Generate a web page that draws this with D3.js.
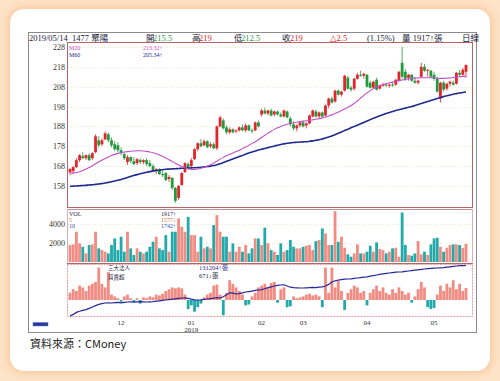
<!DOCTYPE html>
<html><head><meta charset="utf-8">
<script src="https://cdn.jsdelivr.net/npm/d3@7"></script>
<style>body{margin:0;background:#fde3c7;} svg{display:block}</style>
</head><body><svg id="c" width="500" height="381"></svg>
<script>
// ---- DATA ----
const openP = [165,165.5,167.5,171,173,172,173.5,172,175,181,
179,181.5,184,181,179,178.5,176,174,170,172.5,
170.5,169.5,171,170,171,169.5,168,165.5,166,164,
164.5,161.5,162,157,152,158.5,165,169,168,171.5,
176.5,179.5,178.5,180.5,178,179,177,188,191,187.5,
185,186.5,185.5,186,187.5,186,188.5,186,186,190,
194,196,194.5,196,194,195.5,194,193,195.5,192,
189,187,188.5,190,188.5,189.5,193,195.5,193,195,
193.5,198.5,202,200.5,206,204,206,212.5,207.5,207,
212,214,213.5,214,210,207.5,211.5,207,208.5,209,
208.5,209,209,211,220,215.5,212.5,214,211,210,
213,218,216,216,214,212,202,210,207,209.5,
210,209.5,215,214,215.5];
const highP = [167,168,172,174,175,174,174.5,175,184,183,
182,185.5,185,182.5,180.5,180,177.5,175,173.5,173,
172.5,172,172,171.5,172,171,169,167,167,165.5,
165,163.5,162.5,157.5,158.5,165,170,170,172,177,
180,181.5,181.5,181,180,180,188.5,193.5,192,188.5,
187.5,187,186.5,188,189,189.5,189,187,190.5,191,
197,197.5,196.5,197,196,196,195,196.5,196,193,
190.5,189,190.5,191,190,194,196.5,196.5,195.5,195.5,
199,202.5,203,206.5,206.5,206,214,213.5,208.5,212.5,
215,216,215,214.5,211,211,212.5,209,210,210,
209.5,210,212,216,228,217,214.5,214.5,213,211.5,
220,219.5,217,216.5,215.5,213,210.5,211,210,211,
211,215.5,216.5,217.5,219];
const lowP = [163.5,164,167,170,171.5,171,170.5,171,174.5,177.5,
178,181,180,177.5,175.5,175,173.5,171,168.5,169.5,
168.5,168.5,169,169,168,167.5,165,164,163.5,162.5,
160.5,160,156,149.5,151,158,164.5,166.5,167,171,
175.5,177.5,178,177,177,176.5,176,187.5,186.5,184,
184,184.5,184.5,185.5,185.5,185,185.5,184.5,185.5,187.5,
193,194,193.5,193,193,193.5,192.5,192.5,192,188,
186,185.5,187.5,187.5,187,189,192.5,192.5,192,192.5,
193,197,199.5,200,203.5,203,205.5,206.5,205.5,206,
211.5,213,212,207.5,207,207,206,206.5,208,208,
207.5,208,208.5,210.5,212,211,211,210.5,209.5,209,
212.5,215.5,213,212.5,211,205,200,205.5,206,208,
208.5,209,213,213.5,212.5];
const closeP = [166.5,167.5,171,173.5,172,173.5,171,174.5,183,178.5,
181,184.5,181,178.5,176.5,176,174.5,172,172.5,170.5,
169,171.5,170,171,169,168,165.5,166.5,164,163.5,
161,162.5,157,150.5,158,164.5,169.5,167,171,176.5,
179.5,178,180.5,177.5,179,177,188,192.5,187,185,
186.5,185,186,187.5,186,188.5,186,185.5,190,188,
196,194.5,196,193.5,195.5,194,193,196,192.5,189,
187,188.5,190,188,189.5,193.5,196,193,195,193,
198.5,202,200,206,204,205.5,213.5,207,206.5,212,
214,213.5,214.5,208,207.5,210.5,206.5,208.5,209,208.5,
209,208.5,211.5,215.5,213,212,214,211,210,211,
218,216,216.5,213,212,205.5,210,206.5,209.5,210.5,
209,215,214,216.5,219];
const ma20 = [164.5,164.6,164.8,165.2,165.8,166.5,167.3,168.2,169.2,170.1,
171.0,171.8,172.6,173.3,173.9,174.4,174.8,175.1,175.3,175.5,
175.6,175.7,175.7,175.6,175.4,175.1,174.7,174.2,173.6,172.9,
172.1,171.2,170.3,169.4,168.6,167.8,167.1,166.6,166.3,166.3,
166.5,166.9,167.4,168.0,168.7,169.5,170.5,171.5,172.4,173.2,
173.9,174.6,175.3,176.0,176.8,177.6,178.5,179.4,180.3,181.3,
182.4,183.5,184.6,185.6,186.5,187.3,188.0,188.6,189.1,189.5,
189.8,190.1,190.4,190.6,190.8,191.0,191.3,191.6,191.9,192.3,
192.7,193.2,193.8,194.5,195.2,196.0,196.8,197.6,198.5,199.5,
200.8,202.2,203.6,204.9,206.0,207.0,207.8,208.5,209.0,209.5,
209.9,210.3,210.7,211.1,211.4,211.7,211.9,212.1,212.3,212.4,
212.5,212.5,212.5,212.5,212.4,212.3,212.2,212.2,212.3,212.4,
212.6,212.8,213.0,213.2,213.32];
const ma60 = [157.8,157.9,158.0,158.1,158.2,158.3,158.5,158.6,158.8,159.0,
159.2,159.5,159.8,160.1,160.5,160.9,161.3,161.8,162.3,162.8,
163.3,163.7,164.1,164.5,164.9,165.2,165.5,165.8,166.0,166.2,
166.4,166.5,166.6,166.7,166.8,166.9,167.0,167.0,167.1,167.2,
167.3,167.4,167.6,167.8,168.0,168.3,168.7,169.2,169.8,170.4,
171.0,171.6,172.2,172.8,173.4,174.0,174.6,175.1,175.6,176.1,
176.5,176.9,177.3,177.7,178.1,178.5,178.9,179.2,179.5,179.7,
179.9,180.0,180.1,180.2,180.3,180.5,180.7,181.0,181.3,181.7,
182.1,182.6,183.2,183.8,184.5,185.2,185.9,186.6,187.3,188.0,
188.6,189.3,190.0,190.7,191.4,192.1,192.7,193.3,193.9,194.5,
195.0,195.5,196.0,196.4,196.8,197.2,197.6,198.0,198.5,199.0,
199.5,200.0,200.5,201.0,201.5,202.0,202.5,203.0,203.4,203.8,
204.2,204.5,204.8,205.1,205.34];
const volume = [1790,1860,3200,1970,1610,910,1790,1860,3200,1440,
1260,1090,910,1790,2490,1260,2670,1090,3200,1440,
740,1440,1090,910,1090,1610,2140,2670,1440,1260,
2840,1090,3200,3200,4600,3720,3200,4770,2840,2840,
1090,2670,1440,1610,1440,3900,4950,3200,2670,2670,
1090,1970,1090,1610,1090,1790,910,1440,2490,2490,
1790,3620,1970,1260,1090,740,1970,1090,1260,2320,
1610,1440,1440,1610,1720,1790,1260,2210,2320,3550,
3020,1790,1790,5370,2140,2670,1510,810,560,910,
1860,910,910,1090,1720,1090,2070,1370,1260,910,
1090,1440,1510,560,5230,1790,740,670,910,2210,
810,1090,740,1860,2490,2560,1610,1090,1510,1790,
1860,1860,1790,1500,1917];
const netBuy = [400,600,500,800,700,500,800,900,1000,1800,
900,700,1550,300,200,100,-100,200,300,100,
-150,100,-200,150,100,200,150,300,250,350,
500,600,700,650,700,650,300,-500,-300,-650,
-400,-200,150,300,400,800,850,300,-850,400,
1100,900,700,500,300,-300,-250,200,400,700,
800,900,700,950,1000,-150,600,700,-400,-350,
200,100,150,200,300,350,250,300,200,-400,
1800,400,1800,700,1100,500,-550,400,600,800,
700,400,500,-300,400,600,800,500,700,400,
300,600,400,700,500,300,400,-150,200,600,
1000,700,-400,-500,-450,300,800,500,900,700,
1100,600,900,500,671];
const cumNet = [5000,9000,14000,17000,19000,21000,24000,27500,31000,34000,
36000,37500,38000,37500,38500,39000,38000,39000,40000,40500,
40000,40500,41000,40500,40000,40500,41000,42000,43000,44000,
45000,46000,47000,48000,49000,50000,50500,49000,47000,45500,
45000,45500,46500,47500,48500,49500,51000,50000,53000,58000,
63000,62000,60000,61000,63000,65000,66000,67000,69000,70000,
71000,73000,76000,78000,80000,81500,82500,83000,80000,77000,
76000,75500,75000,75000,75500,76000,76500,76000,77000,78000,
80000,84000,90000,93000,95000,96000,97000,97500,98000,99000,
100000,101000,102000,103000,104500,106000,107500,109000,110500,111500,
112500,113500,114500,115000,115500,116500,117500,118500,119500,120500,
121500,122500,123500,124000,124500,125000,125500,126000,127000,128000,
129000,130000,131000,130800,131204];
const priceTicks = [228,218,208,198,188,178,168,158];
const volTicks = [4000,2000];
const monthIdx = [16,38,60,73,93,114];
const monthLabels = ["12","01","02","03","04","05"];

// ---- LAYOUT ----
const N = closeP.length;
const svg = d3.select("#c");
const serif = "'Liberation Serif','DejaVu Serif','Noto Sans CJK TC',serif";
const cjk = "'Noto Sans CJK TC','Noto Sans CJK SC',sans-serif";
const RED = "#e3242b", GREEN = "#219a3e", SALMON = "#f28b82", TEAL = "#22a9a9";

const defs = svg.append("defs");
const fl = defs.append("filter").attr("id","glow").attr("x","-10%").attr("y","-10%").attr("width","120%").attr("height","120%");
fl.append("feGaussianBlur").attr("stdDeviation",4);
svg.append("rect").attr("width",500).attr("height",381).attr("fill","#fde3c7");
svg.append("rect").attr("x",9).attr("y",8).attr("width",482).attr("height",364).attr("rx",14)
  .attr("fill","#f7b27c").attr("opacity",0.7).attr("filter","url(#glow)");
svg.append("rect").attr("x",10).attr("y",9).attr("width",480).attr("height",362).attr("rx",14).attr("fill","#fff");

// chart frame
svg.append("rect").attr("x",28.5).attr("y",32.5).attr("width",448).attr("height",300)
  .attr("fill","#fff").attr("stroke","#8c8c8c");

const x = d3.scaleBand().domain(d3.range(N)).range([68,468]).padding(0.25);
const cx = i => x(i) + x.bandwidth()/2;
const yP = d3.scaleLinear().domain([147.4,230]).range([207,43]);
const yV = d3.scaleLinear().domain([0,5600]).range([262,209]);
const yN = d3.scaleLinear().domain([-1000,2000]).range([318,264]);
const yC = d3.scaleLinear().domain([0,135000]).range([318,264]);

// panel frames
svg.append("rect").attr("x",67.5).attr("y",42.5).attr("width",405).attr("height",165)
  .attr("fill","none").attr("stroke","#b76565");
svg.append("line").attr("x1",67).attr("x2",473).attr("y1",209.5).attr("y2",209.5).attr("stroke","#c98a8a");
svg.append("line").attr("x1",67.5).attr("x2",67.5).attr("y1",209).attr("y2",262).attr("stroke","#d9b0b0");
svg.append("line").attr("x1",472.5).attr("x2",472.5).attr("y1",209).attr("y2",262).attr("stroke","#d9b0b0");
svg.append("rect").attr("x",67.5).attr("y",264.5).attr("width",405).attr("height",52)
  .attr("fill","none").attr("stroke","#e29a9a").attr("stroke-dasharray","2,1");
svg.append("line").attr("x1",67).attr("x2",473).attr("y1",263.5).attr("y2",263.5).attr("stroke","#b76565");

// faint grid
svg.append("g").selectAll("line").data(priceTicks).join("line")
  .attr("x1",68).attr("x2",472).attr("y1",d=>Math.round(yP(d))+0.5).attr("y2",d=>Math.round(yP(d))+0.5)
  .attr("stroke","#e9eccc").attr("stroke-dasharray","1,2");
svg.append("g").selectAll("line").data(volTicks).join("line")
  .attr("x1",68).attr("x2",472).attr("y1",d=>Math.round(yV(d))+0.5).attr("y2",d=>Math.round(yV(d))+0.5)
  .attr("stroke","#e9eccc").attr("stroke-dasharray","1,2");

// axes
const axP = svg.append("g").attr("transform","translate(66,0)")
  .call(d3.axisLeft(yP).tickValues(priceTicks).tickSize(0).tickPadding(1));
axP.select(".domain").remove();
axP.selectAll("text").attr("font-family",serif).attr("font-size",8).attr("fill","#333");
const axV = svg.append("g").attr("transform","translate(66,0)")
  .call(d3.axisLeft(yV).tickValues(volTicks).tickSize(0).tickPadding(1).tickFormat(d3.format("d")));
axV.select(".domain").remove();
axV.selectAll("text").attr("font-family",serif).attr("font-size",8).attr("fill","#333");
const axX = svg.append("g").attr("transform","translate(0,318)")
  .call(d3.axisBottom(x).tickValues(monthIdx).tickSize(0).tickPadding(2).tickFormat((d,k)=>monthLabels[k]));
axX.select(".domain").remove();
axX.selectAll("text").attr("font-family",serif).attr("font-size",7).attr("fill","#333");
svg.append("text").attr("x",cx(monthIdx[1])).attr("y",332).attr("text-anchor","middle")
  .attr("font-family",serif).attr("font-size",7).attr("fill","#333").text("2019");

// candles
const idx = d3.range(N);
const cg = svg.append("g");
cg.selectAll("line").data(idx).join("line")
  .attr("x1",i=>cx(i)).attr("x2",i=>cx(i))
  .attr("y1",i=>yP(highP[i])).attr("y2",i=>yP(lowP[i]))
  .attr("stroke",i=>closeP[i]>=openP[i]?RED:GREEN).attr("stroke-width",0.8);
cg.selectAll("rect").data(idx).join("rect")
  .attr("x",i=>x(i)-0.2).attr("width",x.bandwidth()+0.4)
  .attr("y",i=>yP(Math.max(openP[i],closeP[i])))
  .attr("height",i=>Math.max(1,Math.abs(yP(openP[i])-yP(closeP[i]))))
  .attr("fill",i=>closeP[i]>=openP[i]?RED:GREEN);

// moving averages
const line = arr => d3.line().x((d,i)=>cx(i)).y(d=>yP(d)).curve(d3.curveMonotoneX)(arr);
svg.append("path").attr("d",line(ma60)).attr("fill","none").attr("stroke","#1f2a8c").attr("stroke-width",1.6);
svg.append("path").attr("d",line(ma20)).attr("fill","none").attr("stroke","#c24fc4").attr("stroke-width",1.1);

// volume bars
svg.append("g").selectAll("rect").data(idx).join("rect")
  .attr("x",i=>x(i)-0.2).attr("width",x.bandwidth()+0.4)
  .attr("y",i=>yV(volume[i])).attr("height",i=>yV(0)-yV(volume[i]))
  .attr("fill",i=>closeP[i]>=openP[i]?SALMON:TEAL);

// institutional net buy/sell
svg.append("g").selectAll("rect").data(idx).join("rect")
  .attr("x",i=>x(i)-0.2).attr("width",x.bandwidth()+0.4)
  .attr("y",i=>yN(Math.max(0,netBuy[i]))).attr("height",i=>Math.abs(yN(netBuy[i])-yN(0)))
  .attr("fill",i=>netBuy[i]>=0?SALMON:TEAL);
svg.append("path").attr("d",d3.line().x((d,i)=>cx(i)).y(d=>yC(d))(cumNet))
  .attr("fill","none").attr("stroke","#27279a").attr("stroke-width",1.2);

// header
const hparts = [
  [29,"2019/05/14","#1a1a3a"],[72,"1477 聚陽","#1a1a3a"],
  [146,"開","#1a1a3a"],[153,"215.5","#2a9a3e"],
  [192,"高","#1a1a3a"],[199,"219","#e3242b"],
  [234,"低","#1a1a3a"],[241,"212.5","#2a9a3e"],
  [282,"收","#1a1a3a"],[290,"219","#e3242b"],
  [330,"△2.5","#e3242b"],[367,"(1.15%)","#1a1a3a"],
  [402,"量 1917↑張","#1a1a3a"],[462,"日線","#1a1a3a"]];
svg.append("g").selectAll("text").data(hparts).join("text")
  .attr("x",d=>d[0]).attr("y",41).attr("font-family",serif).attr("font-size",8.5)
  .attr("fill",d=>d[2]).text(d=>d[1]);

// legends
const small = (xx,yy,t,c,sz=6)=>svg.append("text").attr("x",xx).attr("y",yy)
  .attr("font-family",serif).attr("font-size",sz).attr("fill",c).text(t);
small(69,50,"M20","#c24fc4");
small(69,57,"M60","#1f2a8c");
small(143,50,"213.32↑","#c24fc4");
small(143,57,"205.34↑","#1f2a8c");
small(69,216,"VOL","#1a1a4a");
small(69,222,"5","#e06a3a");
small(69,228,"10","#3050b8");
small(161,216,"1917↑","#1a1a4a");
small(161,222,"1577↓","#e06a3a");
small(161,228,"1742↑","#3050b8");
svg.append("text").attr("x",108).attr("y",270).attr("font-family",cjk).attr("font-size",5.5).attr("fill","#1a1a3a").text("三大法人");
svg.append("text").attr("x",108).attr("y",278.5).attr("font-family",cjk).attr("font-size",5.5).attr("fill","#1a1a3a").text("買賣超");
svg.append("text").attr("x",199).attr("y",270).attr("font-family",serif).attr("font-size",6.5).attr("fill","#27279a").text("131204↑張");
svg.append("text").attr("x",199).attr("y",278).attr("font-family",serif).attr("font-size",6.5).attr("fill","#1a1a3a").text("671↓張");

// small button
svg.append("rect").attr("x",33).attr("y",322.5).attr("width",15).attr("height",3.5).attr("fill","#2838a0").attr("stroke","#6a78d0").attr("stroke-width",0.5);

// source
svg.append("text").attr("x",30).attr("y",348).attr("font-family",cjk).attr("font-size",11).attr("fill","#222").text("資料來源：CMoney");
</script></body></html>
